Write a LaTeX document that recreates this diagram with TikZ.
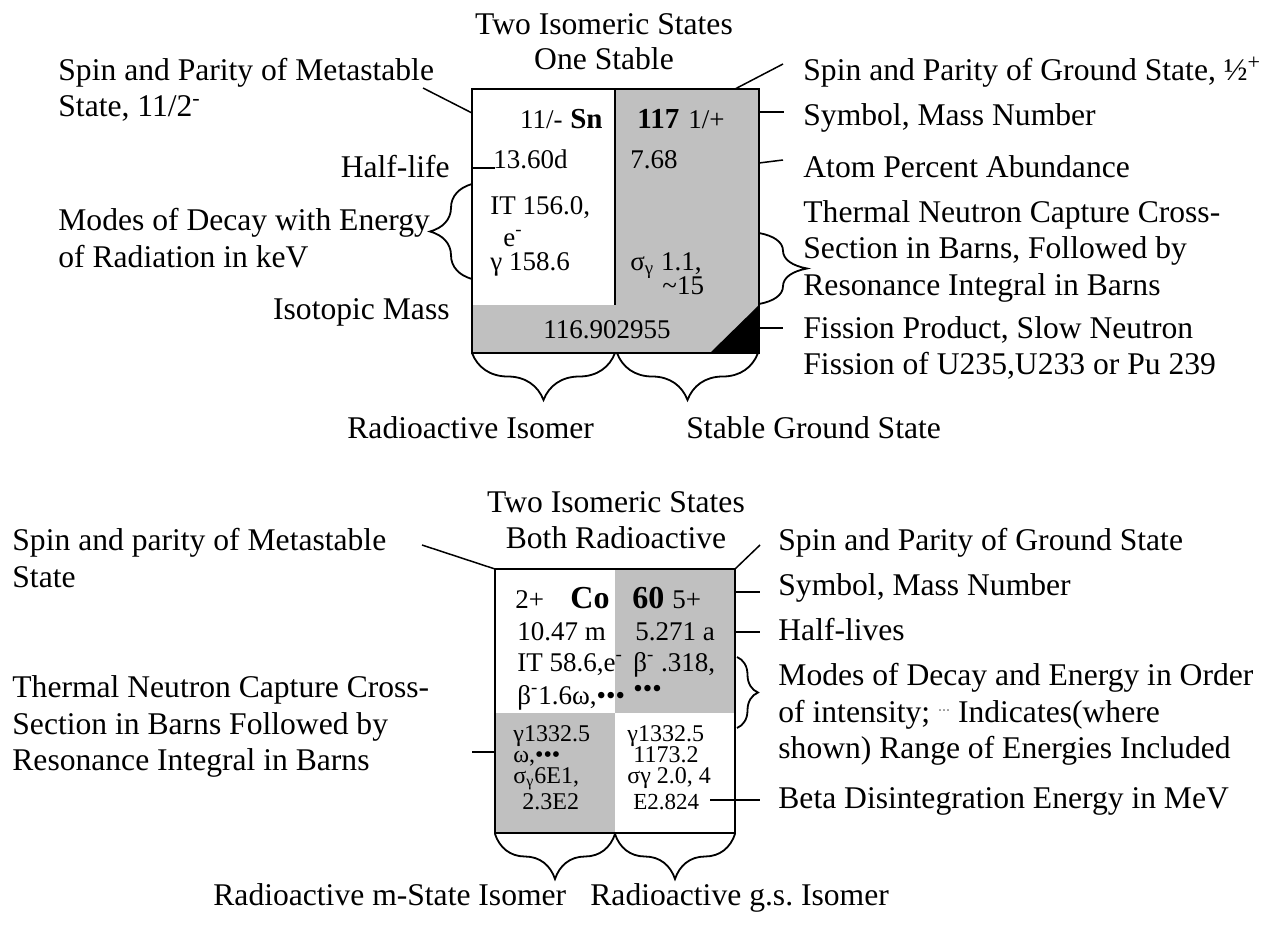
\documentclass[tikz,border=0pt]{standalone}
\usepackage{fontspec}
\setmainfont{Liberation Serif}
\usetikzlibrary{decorations.pathreplacing}
\definecolor{cellgray}{RGB}{192,192,192}
\newcommand{\lblsz}{\fontsize{15.8}{18}\selectfont}
\newcommand{\cellsz}{\fontsize{13.5}{15}\selectfont}
\tikzset{
  lbl/.style={anchor=base west,inner sep=0pt,font=\lblsz},
  lblr/.style={lbl,anchor=base east},
  lblc/.style={lbl,anchor=base},
  cell/.style={anchor=base west,inner sep=0pt,font=\cellsz},
  tight/.style={cell,font=\fontsize{12}{13}\selectfont},
  elem/.style={cell,font=\fontsize{16}{18}\selectfont\bfseries},
  lead/.style={line width=0.75pt},
  frame/.style={line width=1pt},
  brc/.style={decorate,decoration={brace,amplitude=#1},line width=0.9pt},
}
\begin{document}
\begin{tikzpicture}[x=0.5pt,y=-0.5pt]
\useasboundingbox (0,0) rectangle (1273,926);
% Sn-117 chart
\fill[cellgray] (615,89) rectangle (759,305);
\fill[cellgray] (472,305) rectangle (759,353);
\fill (710,353) -- (759,305) -- (759,353) -- cycle;
\draw[frame] (472,89) rectangle (759,353);
\draw[frame] (615,89) -- (615,305);
\node[elem,anchor=base east,font=\fontsize{14.5}{16}\selectfont\bfseries] (snsym) at (603,128) {Sn};
\node[cell,anchor=base east] (snspin) at (563,128) {11/-};
\node[elem,font=\fontsize{14.5}{16}\selectfont\bfseries] (snmass) at (637,128) {117};
\node[cell] (gsspin) at (688,128) {1/+};
\node[cell] (snhalf) at (493,168) {13.60d};
\node[cell] (snabund) at (630,168) {7.68};
\node[cell] (snit) at (490,214) {IT 156.0,};
\node[cell] (sne) at (503,246) {e\textsuperscript{-}};
\node[cell] (sngam) at (490,270) {γ 158.6};
\node[cell] (snsig) at (630,270) {σ\textsubscript{γ} 1.1,};
\node[cell] (snres) at (662,294) {\textasciitilde15};
\node[cell,anchor=base] (snmassv) at (607,338) {116.902955};
\node[lblc] (ttlA) at (604,34) {Two Isomeric States};
\node[lblc] (ttlB) at (604,69) {One Stable};
\node[lbl] (mspA) at (58,80) {Spin and Parity of Metastable};
\node[lbl] (mspB) at (58,116) {State, 11/2\textsuperscript{-}};
\node[lblr] (hlf) at (450,177) {Half-life};
\node[lbl] (modA) at (58,230) {Modes of Decay with Energy};
\node[lbl] (modB) at (58,267) {of Radiation in keV};
\node[lblr] (isom) at (450,319) {Isotopic Mass};
\node[lbl] (gsp) at (803,80) {Spin and Parity of Ground State, ½\textsuperscript{+}};
\node[lbl] (smb) at (803,125) {Symbol, Mass Number};
\node[lbl] (abd) at (803,177) {Atom Percent Abundance};
\node[lbl] (thA) at (803,222) {Thermal Neutron Capture Cross-};
\node[lbl] (thB) at (803,258) {Section in Barns, Followed by};
\node[lbl] (thC) at (803,295) {Resonance Integral in Barns};
\node[lbl] (fisA) at (803,338) {Fission Product, Slow Neutron};
\node[lbl] (fisB) at (803,374) {Fission of U235,U233 or Pu 239};
\node[lbl] (radiso) at (347,438) {Radioactive Isomer};
\node[lbl] (stbgs) at (686,438) {Stable Ground State};
\coordinate (mspE) at (423,88);  \coordinate (mspS) at (472,113);
\coordinate (hlfS) at (472,168); \coordinate (hlfE) at (495,168);
\coordinate (gspS) at (735,89);  \coordinate (gspE) at (783,64);
\coordinate (smbS) at (759,112); \coordinate (smbE) at (784,112);
\coordinate (abdS) at (759,163); \coordinate (abdE) at (783,160);
\coordinate (fisS) at (759,328); \coordinate (fisE) at (783,328);
\draw[lead] (mspE) -- (mspS);
\draw[lead] (hlfS) -- (hlfE);
\draw[lead] (gspS) -- (gspE);
\draw[lead] (smbS) -- (smbE);
\draw[lead] (abdS) -- (abdE);
\draw[lead] (fisS) -- (fisE);
\draw[brc=21pt] (472,279) -- (472,184);
\draw[brc=24pt] (759,233) -- (759,304);
\draw[brc=23.5pt] (615,353) -- (472,353);
\draw[brc=23.5pt] (758,353) -- (617,353);
% Co-60 chart
\fill[cellgray] (615,569) rectangle (735,713);
\fill[cellgray] (495,713) rectangle (615,833);
\draw[frame] (495,569) rectangle (735,833);
\node[cell] (cospin) at (515,608) {2+};
\node[elem] (cosym) at (570,608) {Co};
\node[elem] (comass) at (632,608) {60};
\node[cell] (gsspinb) at (672,608) {5+};
\node[cell] (cohalf) at (517,640) {10.47 m};
\node[cell] (gshalf) at (635,640) {5.271 a};
\node[cell] (coit) at (517,671) {IT 58.6,e\textsuperscript{-}};
\node[cell] (gsbeta) at (633,671) {β\textsuperscript{-} .318,};
\node[cell] (cobeta) at (517,704) {β\textsuperscript{-}1.6ω,•••};
\node[cell] (gsdots) at (633,697) {•••};
\node[tight] (cogam) at (513,741) {γ1332.5};
\node[tight] (coom) at (513,762) {ω,•••};
\node[tight] (cosig) at (513,783) {σ\textsubscript{γ}6E1,};
\node[tight] (cores) at (522,809) {2.3E2};
\node[tight] (gsgam) at (627,741) {γ1332.5};
\node[tight] (gsgamb) at (633,762) {1173.2};
\node[tight] (gssig) at (627,783) {σγ 2.0, 4};
\node[cell,font=\fontsize{11.5}{13}\selectfont] (gsbde) at (633,809) {E2.824};
\node[lblc] (ttlC) at (616,512) {Two Isomeric States};
\node[lblc] (ttlD) at (616,548) {Both Radioactive};
\node[lbl] (mspC) at (12,550) {Spin and parity of Metastable};
\node[lbl] (mspD) at (12,587) {State};
\node[lbl] (thD) at (12,697) {Thermal Neutron Capture Cross-};
\node[lbl] (thE) at (12,734) {Section in Barns Followed by};
\node[lbl] (thF) at (12,770) {Resonance Integral in Barns};
\node[lbl] (gspB) at (778,550) {Spin and Parity of Ground State};
\node[lbl] (smbB) at (778,595) {Symbol, Mass Number};
\node[lbl] (hlvs) at (778,640) {Half-lives};
\node[lbl] (mdA) at (778,685) {Modes of Decay and Energy in Order};
\node[lbl] (mdB) at (778,722) {of intensity; \raisebox{0.55ex}{\fontsize{6}{6}\selectfont\textperiodcentered\textperiodcentered\textperiodcentered} Indicates(where};
\node[lbl] (mdC) at (778,758) {shown) Range of Energies Included};
\node[lbl] (bde) at (778,808) {Beta Disintegration Energy in MeV};
\node[lbl] (radm) at (213,905) {Radioactive m-State Isomer};
\node[lbl] (radg) at (590,905) {Radioactive g.s.\ Isomer};
\coordinate (mspF) at (422,545); \coordinate (mspT) at (495,569);
\coordinate (gspT) at (735,569); \coordinate (gspF) at (760,545);
\coordinate (smbT) at (735,592); \coordinate (smbF) at (760,592);
\coordinate (hlvT) at (735,632); \coordinate (hlvF) at (760,632);
\coordinate (bdeT) at (710,800); \coordinate (bdeF) at (760,800);
\coordinate (thT) at (495,752);  \coordinate (thF) at (472,752);
\draw[lead] (mspF) -- (mspT);
\draw[lead] (gspT) -- (gspF);
\draw[lead] (smbT) -- (smbF);
\draw[lead] (hlvT) -- (hlvF);
\draw[lead] (bdeT) -- (bdeF);
\draw[lead] (thF) -- (thT);
\draw[brc=10.5pt] (737,657) -- (737,728);
\draw[brc=22.5pt] (615,834) -- (495,834);
\draw[brc=22.5pt] (735,834) -- (615,834);
\end{tikzpicture}
\end{document}
